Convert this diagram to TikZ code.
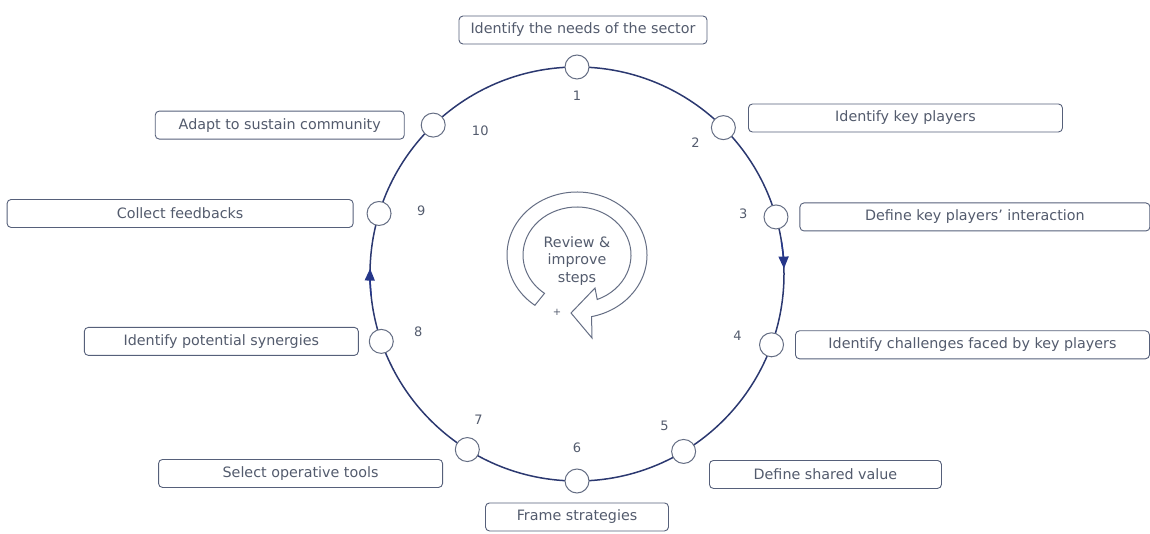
\documentclass[tikz,border=0pt]{standalone}
\usepackage{fontspec}
\setmainfont{DejaVu Sans}
\usetikzlibrary{arrows.meta,positioning}
\definecolor{cyring}{HTML}{2B3870}
\definecolor{cyarrow}{HTML}{26378A}
\definecolor{cyedge}{HTML}{56607A}
\definecolor{cydot}{HTML}{656E84}
\definecolor{cytext}{HTML}{535B6D}

\begin{document}
\begin{tikzpicture}[
  x=1pt, y=1pt,
  every node/.style={font=\fontsize{14.3}{17.5}\selectfont, text=cytext, align=center},
  stepbox/.style={draw=cyedge, rounded corners=4pt, fill=white, minimum height=28pt, inner sep=0pt, line width=0.9pt},
  dot/.style={circle, draw=cydot, fill=white, minimum size=24pt, inner sep=0pt, line width=1pt},
  ring/.style={draw=cyring, line width=1.5pt},
  flow/.style={-{Triangle[length=12pt,width=10pt]}, draw=cyarrow, fill=cyarrow, line width=1.5pt},
  hoop/.style={draw=cydot, fill=white, line width=1pt},
  num/.style={font=\fontsize{13}{15}\selectfont}
]
\useasboundingbox (0,0) rectangle (1150,-534);
\coordinate (c) at (577,-274);
\draw[ring] (c) circle (207);
% direction marks on the cycle
\draw[flow] ([shift={(9:207)}]c) arc (9:1.5:207);
\draw[flow] ([shift={(186:207)}]c) arc (186:178.5:207);

% step dots and their numbers
\foreach \n/\a/\la/\lr in {1/90/90/178, 2/45/48/177, 3/16/20/177, 4/-20/-21/172, 5/-59/-60/175,
    6/-90/-90/174, 7/-122/-124/176, 8/-161/-160/169, 9/163/158/168, 10/134/124/173} {
  \node[dot] (d\n) at ([shift={(\a:207)}]c) {};
  \node[num] (n\n) at ([shift={(\la:\lr)}]c) {\n};
}

% step boxes
\node[stepbox, minimum width=248pt] (b1) at (583,-30) {Identify the needs of the sector};
\node[stepbox, minimum width=314pt, anchor=west] (b2) at (748,-118) {Identify key players};
\node[stepbox, minimum width=350pt, right=11pt of d3] (b3) {Define key players’ interaction};
\node[stepbox, minimum width=354pt, right=11pt of d4] (b4) {Identify challenges faced by key players};
\node[stepbox, minimum width=232pt, anchor=north west] (b5) at (709,-460) {Define shared value};
\node[stepbox, minimum width=183pt, below=9pt of d6] (b6) {Frame strategies};
\node[stepbox, minimum width=284pt, anchor=north east] (b7) at (443,-459) {Select operative tools};
\node[stepbox, minimum width=274pt, left=10pt of d8] (b8) {Identify potential synergies};
\node[stepbox, minimum width=346pt, left=13pt of d9] (b9) {Collect feedbacks};
\node[stepbox, minimum width=249pt, left=16pt of d10] (b10) {Adapt to sustain community};

% review loop in the middle
\coordinate (o) at (577,-255);
\draw[hoop] ([shift={(233:70 and 63)}]o) arc[start angle=233, end angle=-78, x radius=70, y radius=63]
  -- ([shift={(15,-83)}]o) -- ([shift={(-6,-58)}]o) -- ([shift={(18,-33)}]o)
  -- ([shift={(-68:54 and 48)}]o) arc[start angle=-68, end angle=233, x radius=54, y radius=48] -- cycle;
\node (review) at (577,-261) {Review \&\\improve\\steps};
\node[font=\fontsize{10}{12}\selectfont] (plus) at (557,-312) {+};
\end{tikzpicture}
\end{document}
